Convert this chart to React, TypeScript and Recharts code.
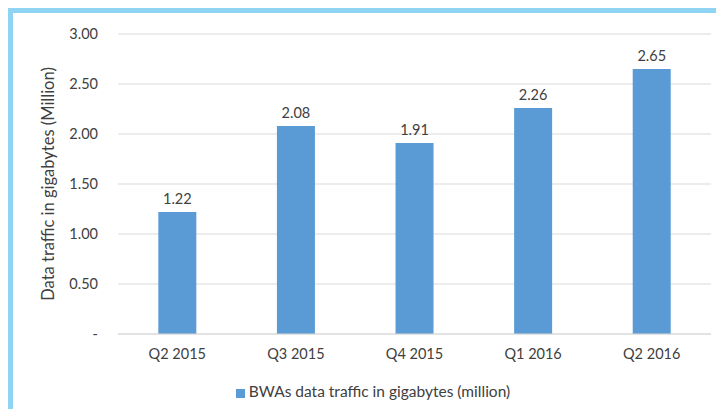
import React from 'react';
import { BarChart, Bar, XAxis, YAxis, CartesianGrid, Legend, LabelList } from 'recharts';

const quarters = ['Q2 2015', 'Q3 2015', 'Q4 2015', 'Q1 2016', 'Q2 2016'];
const traffic = [1.22, 2.08, 1.91, 2.26, 2.65];
const yTicks = [0, 0.5, 1, 1.5, 2, 2.5, 3];

const seriesName = 'BWAs data traffic in gigabytes (million)';
const axisTitle = 'Data traffic in gigabytes (Million)';

const data = quarters.map((q, i) => ({ quarter: q, value: traffic[i] }));

const FONT = 'Lato, "Open Sans", sans-serif';

const App: React.FC = () => {
  return (
    <div
      style={{
        width: 703,
        height: 396,
        borderTop: '5px solid #8FD4F2',
        borderLeft: '5px solid #8FD4F2',
        background: '#fff',
        fontFamily: FONT,
      }}
    >
      <BarChart
        width={703}
        height={396}
        data={data}
        margin={{ top: 21, right: 5, left: 0, bottom: 27 }}
        barCategoryGap="34%"
      >
        <CartesianGrid vertical={false} stroke="#D9D9D9" />
        <XAxis
          dataKey="quarter"
          tickLine={false}
          axisLine={{ stroke: '#D9D9D9' }}
          tickMargin={9}
          height={30}
          tick={{ fill: '#404040', fontSize: 14.5, fontFamily: FONT }}
        />
        <YAxis
          width={105}
          domain={[0, 3]}
          ticks={yTicks}
          axisLine={false}
          tickLine={false}
          tickMargin={14}
          tickFormatter={(v: number) => (v === 0 ? '-' : v.toFixed(2))}
          tick={{ fill: '#404040', fontSize: 14.5, fontFamily: FONT }}
          label={{
            value: axisTitle,
            angle: -90,
            position: 'center',
            dx: -17,
            fill: '#404040',
            fontSize: 16.5,
            fontFamily: FONT,
          }}
        />
        <Legend
          iconType="square"
          iconSize={9}
          wrapperStyle={{ width: 320, left: 205, top: 369, fontSize: 15.5, color: '#404040', fontFamily: FONT }}
          formatter={(v: string) => <span style={{ color: '#404040' }}>{v}</span>}
        />
        <Bar dataKey="value" name={seriesName} fill="#5B9BD5" isAnimationActive={false}>
          <LabelList
            dataKey="value"
            position="top"
            offset={8}
            fill="#404040"
            fontSize={14.5}
            fontFamily={FONT}
            formatter={(v: number) => v.toFixed(2)}
          />
        </Bar>
      </BarChart>
    </div>
  );
};

export default App;
